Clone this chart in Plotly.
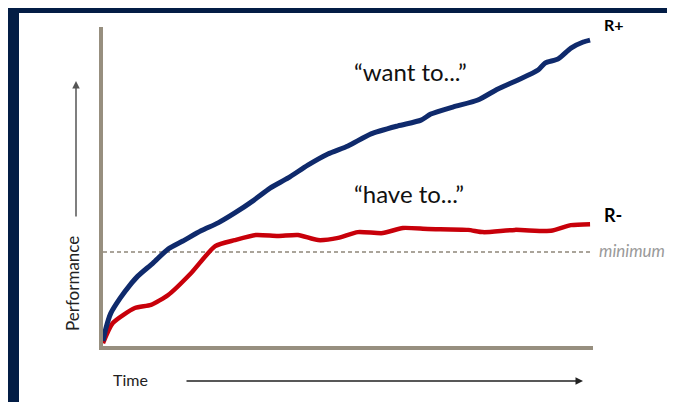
import plotly.graph_objects as go

# ---- data (time 0..100, performance 0..100) ----
want_time = [0, 0.6, 1.6, 3.5, 5.5, 7.1, 10.2, 13.3, 16.3, 20.0, 23.5, 26.9, 30.6, 34.1, 37.8,
             41.8, 45.9, 50.0, 54.7, 60.2, 64.9, 66.9, 71.4, 76.5, 80.6, 84.7, 88.8, 90.2,
             92.9, 95.5, 98.0, 99.4]
want_perf = [1.6, 5.6, 10.3, 15.0, 19.1, 21.9, 26.0, 30.4, 32.9, 36.1, 38.6, 41.7, 45.5, 49.5,
             52.7, 56.7, 60.2, 62.7, 66.5, 69.0, 70.8, 72.7, 74.9, 77.1, 80.6, 83.4, 86.5,
             88.7, 90.0, 93.4, 95.3, 95.9]

have_time = [0, 2.0, 6.5, 9.8, 13.3, 18.0, 22.9, 26.9, 31.2, 35.7, 39.8, 43.9, 48.0, 52.0,
             57.1, 61.2, 66.3, 74.5, 77.6, 84.1, 91.4, 95.5, 99.4]
have_perf = [0.9, 7.2, 11.9, 12.9, 16.0, 22.9, 31.3, 33.2, 34.8, 34.5, 34.8, 33.2, 33.9, 35.7,
             35.4, 37.0, 36.7, 36.4, 35.7, 36.4, 36.1, 37.9, 38.2]

minimum_level = 29.5

BLUE = "#0f2a6c"
RED = "#c8000a"
AXIS = "#978f7f"
NAVY = "#031d45"
FONT = "Lato, 'Open Sans', sans-serif"

fig = go.Figure()

fig.add_trace(go.Scatter(x=[0, 100], y=[minimum_level, minimum_level], mode="lines",
                         line=dict(color="#8f877a", width=1.5, dash="4px,3px"),
                         hoverinfo="skip", showlegend=False))
fig.add_trace(go.Scatter(x=have_time, y=have_perf, mode="lines",
                         line=dict(color=RED, width=4.5, shape="spline", smoothing=0.6),
                         showlegend=False, name="R-"))
fig.add_trace(go.Scatter(x=want_time, y=want_perf, mode="lines",
                         line=dict(color=BLUE, width=5, shape="spline", smoothing=0.6),
                         showlegend=False, name="R+"))

# plot area spans pixels x 95..585, y 19..338
L, R_, T, B = 95, 90, 19, 64
PW, PH = 675 - L - R_, 402 - T - B


def px_x(p):
    return (p - L) / PW


def px_y(p):
    return (402 - B - p) / PH


shapes = [
    # navy frame (left and top)
    dict(type="rect", xref="paper", yref="paper", x0=px_x(0), x1=px_x(11), y0=px_y(402), y1=px_y(0),
         fillcolor=NAVY, line=dict(width=0), layer="below"),
    dict(type="rect", xref="paper", yref="paper", x0=px_x(0), x1=px_x(675), y0=px_y(5), y1=px_y(0),
         fillcolor=NAVY, line=dict(width=0), layer="below"),
]


def label(text, x, y, size, color="#111111", xanchor="center", angle=0):
    return dict(text=text, x=px_x(x), y=px_y(y), xref="paper", yref="paper", showarrow=False,
                xanchor=xanchor, yanchor="middle", textangle=angle,
                font=dict(family=FONT, size=size, color=color))


annotations = [
    label("\u201cwant to...\u201d", 402, 63, 24),
    label("\u201chave to...\u201d", 401, 185, 24),
    label("<b>R+</b>", 594, 17, 16, "#000000", "left"),
    label("<b>R-</b>", 594, 207, 18, "#000000", "left"),
    label("<i>minimum</i>", 589, 242, 17, "#9a9a9a", "left"),
    label("Performance", 64, 276, 17, "#222222", "center", -90),
    label("Time", 122, 372, 16, "#222222"),
    # performance arrow (up)
    dict(text="", x=px_x(68), y=px_y(73), ax=px_x(68), ay=px_y(210), xref="x domain", yref="y domain",
         axref="x domain", ayref="y domain", showarrow=True, arrowhead=2, arrowsize=1, arrowwidth=1.5,
         arrowcolor="#555555"),
    # time arrow (right)
    dict(text="", x=px_x(575), y=px_y(373), ax=px_x(177), ay=px_y(373), xref="x domain", yref="y domain",
         axref="x domain", ayref="y domain", showarrow=True, arrowhead=2, arrowsize=1, arrowwidth=1.5,
         arrowcolor="#222222"),
]

fig.update_layout(
    width=675, height=402,
    margin=dict(l=L, r=R_, t=T, b=B, pad=0),
    paper_bgcolor="white", plot_bgcolor="white",
    shapes=shapes, annotations=annotations,
    xaxis=dict(range=[0, 100], showgrid=False, zeroline=False, showticklabels=False, ticks="",
               showline=True, linecolor=AXIS, linewidth=4),
    yaxis=dict(range=[0, 100], showgrid=False, zeroline=False, showticklabels=False, ticks="",
               showline=True, linecolor=AXIS, linewidth=4),
    hovermode=False,
)

fig.write_html("out.html")
